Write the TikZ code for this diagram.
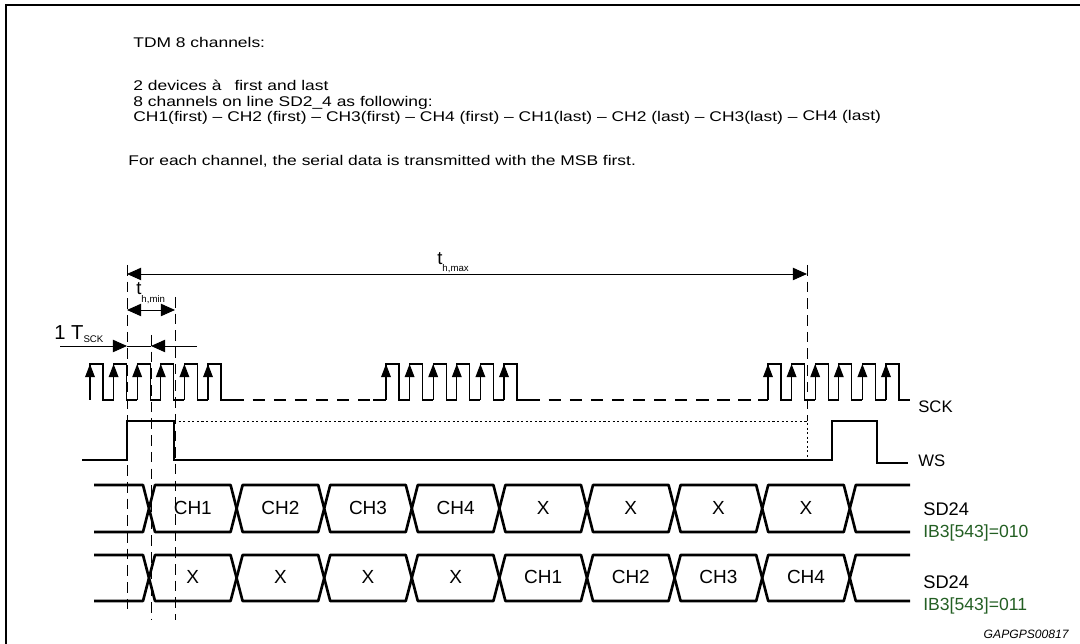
\documentclass[tikz,border=0pt]{standalone}
\usepackage{graphicx}
\usepackage{fontspec}
\setmainfont{Liberation Sans}
\usetikzlibrary{arrows.meta}
\definecolor{regtext}{RGB}{35,95,35}
\newcommand{\subtxt}[2][3.6pt]{\raisebox{-#1}{\fontsize{5.5}{6}\selectfont #2}}
\newcommand{\wide}[1]{\scalebox{1.24}[1]{#1}}
\begin{document}
\begin{tikzpicture}[x=0.02cm, y=-0.02cm,
    note/.style = {anchor=base west, inner sep=0pt, font=\fontsize{8}{9}\selectfont},
    sig/.style = {anchor=base west, inner sep=0pt, font=\fontsize{9.5}{11}\selectfont},
    busname/.style = {anchor=base west, inner sep=0pt, font=\fontsize{10.4}{12}\selectfont},
    reg/.style = {anchor=base west, inner sep=0pt, text=regtext, font=\fontsize{10}{12}\selectfont},
    cell/.style = {inner sep=0pt, font=\fontsize{10.8}{12}\selectfont},
    timelab/.style = {anchor=base west, inner sep=0pt, font=\fontsize{10.5}{11}\selectfont},
    bus/.style = {line width=1.5pt, line join=round},
    clk/.style = {line width=0.75pt},
    edge/.style = {line width=0.75pt, -{Triangle[length=7.5pt,width=5.5pt]}},
    dim/.style = {line width=0.55pt},
    bothheads/.style = {{Triangle[length=8pt,width=7pt]}-{Triangle[length=8pt,width=7pt]}},
    onehead/.style = {-{Triangle[length=8pt,width=7pt]}},
    guide/.style = {line width=0.55pt, dash pattern=on 6pt off 3.5pt},
    lowdash/.style = {line width=0.75pt, dash pattern=on 7pt off 5pt},
    dots/.style = {line width=0.45pt, dash pattern=on 1.2pt off 1.4pt}]
  \useasboundingbox (0,0) rectangle (1080,644);
  \draw[line width=1pt] (6,644) -- (6,5) -- (1080,5);

  \node[note] (title) at (133,48) {\wide{TDM 8 channels:}};
  \node[note] (devices) at (133,91) {\wide{2 devices à\hspace{0.21cm}first and last}};
  \node[note] (line) at (133,106.5) {\wide{8 channels on line SD2\_4 as following:}};
  \node[note] (order) at (133,122) {\wide{CH1(first) – CH2 (first) – CH3(first) – CH4 (first) – CH1(last) – CH2 (last) – CH3(last) – \raisebox{1pt}{CH4 (last)}}};
  \node[note] (msb) at (128,166) {\wide{For each channel, the serial data is transmitted with the MSB first.}};

  % timing marks
  \coordinate (maxL) at (127,274);
  \coordinate (maxR) at (807,274);
  \coordinate (minL) at (127,310);
  \coordinate (minR) at (175,310);
  \coordinate (sckA) at (60,346);
  \coordinate (sckB) at (127,346);
  \coordinate (sckC) at (151,346);
  \coordinate (sckD) at (197,346);
  \draw[dim, bothheads] (maxL) -- (maxR);
  \draw[dim, bothheads] (minL) -- (minR);
  \draw[dim, onehead] (sckA) -- (sckB);
  \draw[dim] (sckB) -- (sckC);
  \draw[dim, onehead] (sckD) -- (sckC);
  \node[timelab] (tmax) at (437,265) {t\subtxt{h,max}};
  \node[timelab] (tmin) at (136,295) {t\subtxt[4pt]{h,min}};
  \node[timelab, font=\fontsize{11.5}{12}\selectfont] (tsck) at (54,340) {1 T\subtxt[1.2pt]{SCK}};

  \draw[guide] (127,265) -- (127,613);
  \draw[guide] (151,335) -- (151,620);
  \draw[guide] (175,297) -- (175,620);
  \draw[guide] (807,265) -- (807,421);

  % SCK
  \foreach \g in {90,386,768} {
    \foreach \k in {0,...,5} {
      \pgfmathsetmacro\r{\g+23.6*\k}
      \draw[clk] (\r,400) -- (\r,364) -- ++(13,0) -- ++(0,36) -- ++(10.6,0);
      \draw[edge] (\r,400) -- (\r,364);
    }
  }
  \draw[lowdash] (231.6,400) -- (373,400);
  \draw[clk] (373,400) -- (386,400);
  \draw[lowdash] (527.6,400) -- (758,400);
  \draw[clk] (758,400) -- (768,400);

  % WS
  \draw[bus, line join=miter] (82,460) -- (127,460) -- (127,421) -- (174,421) -- (174,460)
    -- (832,460) -- (832,421) -- (877,421) -- (877,463) -- (908,463);
  \draw[dots] (174,421) -- (807,421) -- (807,460);

  % SD24 rows
  \foreach \t/\b/\labs in {485/532/{CH1,CH2,CH3,CH4,X,X,X,X}, 555/601/{X,X,X,X,CH1,CH2,CH3,CH4}} {
    \pgfmathsetmacro\m{(\t+\b)/2}
    \draw[bus] (94,\t) -- (143,\t) -- (149,\m) -- (143,\b) -- (94,\b);
    \foreach \lab [count=\k from 0] in \labs {
      \pgfmathsetmacro\a{149+87.6*\k}
      \pgfmathsetmacro\c{\a+87.6}
      \draw[bus] (\a,\m) -- (\a+6,\t) -- (\c-6,\t) -- (\c,\m) -- (\c-6,\b) -- (\a+6,\b) -- cycle;
      \node[cell] (cell\t\k) at (\a+43.8,\m-1) {\lab};
    }
    \draw[bus] (910,\t) -- (855.8,\t) -- (849.8,\m) -- (855.8,\b) -- (910,\b);
  }

  \node[sig] (sck) at (918,413) {SCK};
  \node[sig] (ws) at (918,467) {WS};
  \node[busname] (sdA) at (923,516) {SD24};
  \node[reg] (regA) at (923,538) {IB3[543]=010};
  \node[busname] (sdB) at (923,589) {SD24};
  \node[reg] (regB) at (923,611) {IB3[543]=011};
  \node[anchor=base east, inner sep=0pt, font=\fontsize{6.9}{8}\selectfont\itshape] (fig) at (1069,639) {GAPGPS00817};
\end{tikzpicture}
\end{document}
